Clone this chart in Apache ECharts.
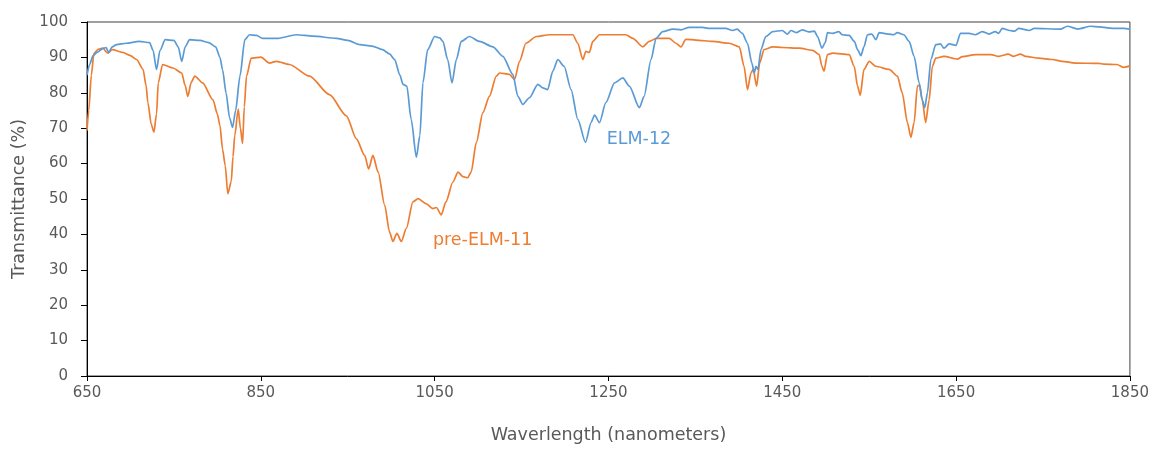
<!DOCTYPE html>
<html>
<head>
<meta charset="utf-8">
<script src="https://cdn.jsdelivr.net/npm/echarts@6/dist/echarts.min.js"></script>
<style>
  html, body { margin: 0; padding: 0; background: #ffffff; }
  #chart { width: 1152px; height: 449px; }
</style>
</head>
<body>
<div id="chart"></div>
<script>
// Transmission spectra, wavelength in nm vs transmittance in %
const elm12Wavelength = [
  650, 653, 657, 662, 668, 672, 675, 679, 684, 695, 710, 722, 726, 730, 734, 740, 750, 755, 759, 763,
  768, 780, 790, 798, 803, 806, 810, 814, 817.5, 821, 826, 831.6, 837, 845, 852, 870, 891, 910, 937, 950,
  964, 978, 990, 998, 1004, 1010, 1013.6, 1018, 1023, 1029, 1033, 1036.5, 1042, 1050, 1056, 1059.5, 1065, 1070, 1075, 1080.6,
  1090, 1101.7, 1117, 1128.5, 1140, 1145.8, 1151.5, 1159, 1168.8, 1174.5, 1180, 1186, 1191.7, 1199, 1207, 1214.7, 1223.6, 1230, 1234, 1239.7,
  1247, 1257, 1266.5, 1274, 1285.6, 1291, 1299, 1304.8, 1312.4, 1324, 1333.5, 1343, 1358, 1366, 1385, 1393, 1398, 1404, 1410, 1415,
  1417.8, 1419.7, 1422, 1425.5, 1431, 1439, 1450, 1456, 1460, 1466, 1473, 1480, 1487, 1490.6, 1495.6, 1499.5, 1502, 1508, 1515, 1519,
  1527, 1533, 1536.6, 1540.5, 1544, 1548, 1553, 1557.7, 1561.5, 1572, 1578, 1582.5, 1590, 1596, 1601.7, 1607.5, 1611, 1614, 1617, 1621,
  1626.6, 1632, 1636, 1642, 1650, 1655, 1665, 1672, 1680, 1688, 1695, 1699, 1703, 1712, 1717, 1722, 1734, 1740, 1770, 1778,
  1790, 1805, 1815, 1830, 1843, 1850
];
const elm12Transmittance = [
  85, 88, 90.5, 91.5, 92.5, 92.8, 91.4, 93, 93.6, 94, 94.5, 94.2, 92, 86.6, 92, 95, 94.8, 93, 88.9, 93,
  95, 94.8, 94.2, 93, 90, 86.5, 80, 73, 70.2, 75, 84.7, 95, 96.4, 96.2, 95.4, 95.4, 96.4, 96, 95.4, 94.8,
  93.6, 93.2, 92.2, 91, 89.4, 85, 82.4, 81.9, 72.5, 61.8, 67.9, 82.8, 92.2, 95.9, 95.5, 94.5, 89.4, 82.8, 89.4, 94.5,
  95.9, 94.5, 93, 90.3, 85.2, 79, 76.7, 78.6, 82.4, 81.4, 80.9, 86.1, 89.4, 87.5, 80.9, 72.5, 66, 71.6, 73.7, 71.6,
  77.2, 82.8, 84.2, 81.9, 75.8, 79, 89.4, 95.4, 97.3, 98, 97.8, 98.5, 98.5, 98.2, 98.2, 97.6, 98, 96.8, 94, 88.4,
  85.6, 87.5, 86.6, 92.2, 95.9, 97.3, 97.6, 96.6, 97.6, 97, 97.8, 97.2, 97.4, 95.9, 92.6, 94.2, 97, 96.8, 97.3, 96.4,
  96.2, 94.5, 92.2, 90.5, 93, 96.4, 96.6, 95, 97, 96.6, 96.4, 97, 96.4, 94.5, 90.3, 82.8, 78, 75.8, 80, 89.4,
  93.6, 93.8, 92.6, 93.8, 93.4, 96.8, 96.8, 96.4, 97.3, 96.6, 97.3, 96.8, 98.2, 97.6, 97.4, 98.2, 97.6, 98.2, 98, 98.8,
  98, 98.8, 98.6, 98.2, 98.2, 98
];

const preElm11Wavelength = [
  650, 652, 655, 658, 663, 668, 674, 679, 691, 700, 707, 714.5, 718, 720, 724, 727, 730, 732, 737, 749,
  759, 763, 766, 770, 774, 783, 795, 800, 803, 806, 809, 812, 816, 818, 820, 824, 826.5, 829, 831, 833.5,
  839, 850, 860, 868, 883, 906, 929, 948.5, 960, 969.5, 974, 979, 985, 992.5, 998, 1002, 1006.6, 1011.6, 1017.5, 1025,
  1031, 1040, 1048, 1052, 1057.6, 1063, 1071, 1077, 1082.6, 1088, 1092, 1098, 1105.5, 1113, 1121, 1124.7, 1136, 1142, 1147.7, 1155,
  1167, 1182, 1209, 1214.7, 1220.5, 1224, 1228, 1232, 1239.7, 1270, 1278, 1289.5, 1297, 1305, 1320, 1327.7, 1333.5, 1339, 1350.7, 1370,
  1389, 1400.6, 1406, 1410, 1414, 1416.6, 1420.5, 1424, 1429, 1439, 1450, 1469.5, 1484.8, 1492.5, 1495.6, 1498, 1502, 1508, 1527, 1532.8,
  1536.6, 1539.7, 1544, 1550, 1557.7, 1573, 1582.5, 1588, 1594, 1598, 1601.7, 1605.5, 1608, 1611, 1615, 1619, 1622.7, 1626.6, 1636, 1651.5,
  1657, 1672.6, 1690, 1699, 1710, 1716, 1724, 1730, 1745, 1760.7, 1772, 1787.6, 1814, 1820, 1835, 1843, 1850
];
const preElm11Transmittance = [
  69.3, 75, 85, 91.2, 92.3, 92.6, 91.2, 92.2, 91.4, 90.5, 89.4, 86.6, 82, 77.3, 71, 68.9, 74, 82.8, 88, 87,
  85.6, 82, 79, 83, 84.7, 82.8, 78, 74, 70.7, 64, 59.5, 51.5, 55, 62, 67.9, 75.4, 70, 65.7, 76, 84.7,
  89.8, 90.1, 88.4, 88.9, 88, 84.7, 79.5, 73.5, 67, 62.3, 58.5, 62.3, 57.6, 48.3, 40.8, 38, 40.3, 38, 41.7, 49.2,
  50.1, 48.7, 47.3, 47.6, 45.5, 49.2, 54.8, 57.6, 56.3, 56, 57.6, 66, 74.4, 79, 84.7, 85.6, 85.2, 83.8, 88.9, 94,
  95.9, 96.4, 96.4, 94, 89.4, 91.7, 91.4, 94.5, 96.4, 96.4, 95.4, 93, 94.5, 95.4, 95.4, 94, 93, 95.1, 94.9, 94.5,
  94, 93, 87.5, 80.9, 85.6, 86.6, 81.9, 88.4, 92.2, 93, 92.8, 92.6, 92, 90.8, 87.5, 86.1, 90.8, 91.2, 90.8, 87.5,
  81.9, 79.3, 86.6, 88.9, 87.5, 86.6, 84.7, 80, 71.6, 67.4, 71.6, 81.9, 82.2, 78, 71.6, 78, 87.5, 89.8, 90.3, 89.5,
  90.2, 90.8, 90.8, 90.3, 90.9, 90.3, 90.9, 90.3, 89.8, 89.4, 88.9, 88.4, 88.3, 88.1, 88, 87.2, 87.6
];

// Series names and where their in-plot labels sit (data coordinates)
const seriesNames = ['ELM-12', 'pre-ELM-11'];
const labelAnchors = [[1248, 66.8], [1048, 38.2]];

const xTitle = 'Waverlength (nanometers)';
const yTitle = 'Transmittance (%)';

const FONT = '"DejaVu Sans", "Open Sans", sans-serif';
const TEXT_GREY = '#595959';
const BLUE = '#5B9BD5';
const ORANGE = '#ED7D31';

function pairs(xs, ys) {
  return xs.map((x, i) => [x, ys[i]]);
}

function spectrumSeries(name, data, color, anchor) {
  return {
    name: name,
    type: 'line',
    data: data,
    showSymbol: false,
    smooth: 0.25,
    smoothMonotone: 'x',
    lineStyle: { color: color, width: 1.7 },
    itemStyle: { color: color },
    z: name === 'ELM-12' ? 3 : 2,
    markPoint: {
      symbol: 'circle',
      symbolSize: 0,
      silent: true,
      data: [{ coord: anchor }],
      label: {
        show: true,
        position: 'inside',
        align: 'left',
        verticalAlign: 'middle',
        formatter: name,
        color: color,
        fontFamily: FONT,
        fontSize: 17.5
      }
    }
  };
}

const chart = echarts.init(document.getElementById('chart'), null, { renderer: 'canvas' });

chart.setOption({
  animation: false,
  backgroundColor: '#ffffff',
  grid: {
    left: 87,
    right: 21,
    top: 22,
    bottom: 70,
    show: true,
    borderColor: '#404040',
    borderWidth: 1,
    backgroundColor: 'transparent'
  },
  xAxis: {
    type: 'value',
    min: 650,
    max: 1850,
    interval: 200,
    name: xTitle,
    nameLocation: 'middle',
    nameGap: 50,
    nameTextStyle: { color: TEXT_GREY, fontFamily: FONT, fontSize: 17.5 },
    axisLine: { show: true, onZero: false, lineStyle: { color: '#000000', width: 1 } },
    axisTick: { show: true, inside: false, length: 5, lineStyle: { color: '#000000' } },
    axisLabel: {
      color: TEXT_GREY, fontFamily: FONT, fontSize: 15, margin: 10,
      formatter: (v) => String(v)
    },
    splitLine: { show: false }
  },
  yAxis: {
    type: 'value',
    min: 0,
    max: 100,
    interval: 10,
    name: yTitle,
    nameLocation: 'middle',
    nameGap: 59,
    nameRotate: 90,
    nameTextStyle: { color: TEXT_GREY, fontFamily: FONT, fontSize: 17.5 },
    axisLine: { show: true, lineStyle: { color: '#000000', width: 1 } },
    axisTick: { show: true, inside: false, length: 6, lineStyle: { color: '#000000' } },
    axisLabel: { color: TEXT_GREY, fontFamily: FONT, fontSize: 15, margin: 19 },
    splitLine: { show: false }
  },
  series: [
    spectrumSeries(seriesNames[0], pairs(elm12Wavelength, elm12Transmittance), BLUE, labelAnchors[0]),
    spectrumSeries(seriesNames[1], pairs(preElm11Wavelength, preElm11Transmittance), ORANGE, labelAnchors[1])
  ]
});
</script>
</body>
</html>
